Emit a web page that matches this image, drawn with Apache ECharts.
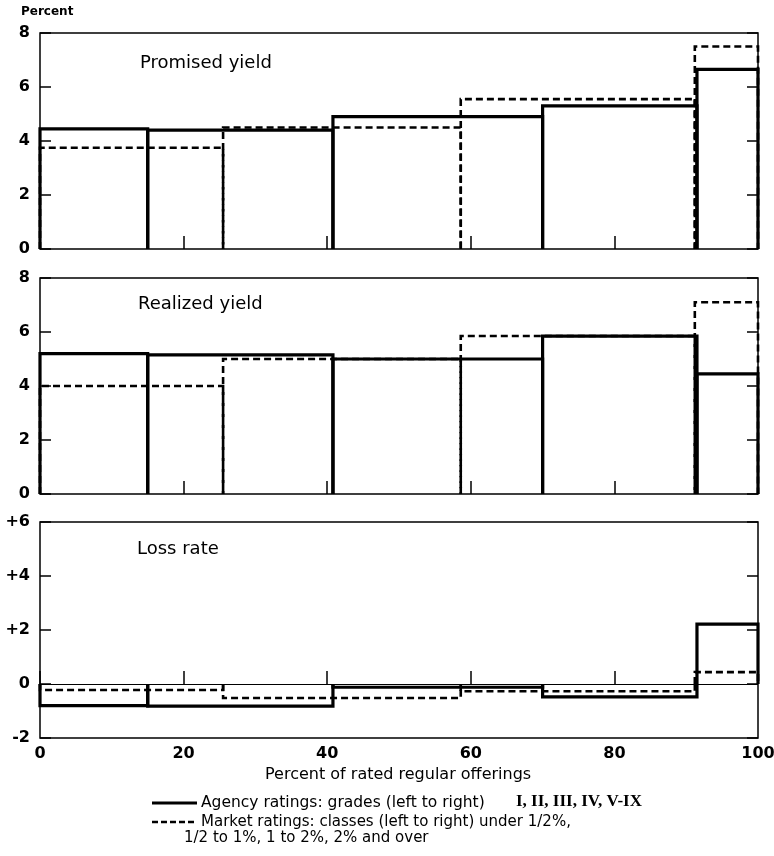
<!DOCTYPE html>
<html><head><meta charset="utf-8">
<script src="https://cdn.jsdelivr.net/npm/echarts@6/dist/echarts.min.js"></script>
<style>html,body{margin:0;padding:0;background:#fff}#c{width:774px;height:856px}</style>
</head><body><div id="c"></div>
<script>
// Bin edges (percent of rated regular offerings)
const agencyEdges = [0, 15, 40.8, 70, 91.5, 100];
const marketEdges = [0, 25.5, 58.6, 91.2, 100];
// Promised yield (percent)
const promisedAgency = [4.45, 4.4, 4.9, 5.3, 6.65];
const promisedMarket = [3.75, 4.5, 5.55, 7.5];
// Realized yield (percent)
const realizedAgency = [5.2, 5.15, 5.0, 5.85, 4.45];
const realizedMarket = [4.0, 5.0, 5.85, 7.1];
// Loss rate (percent)
const lossAgency = [-0.8, -0.82, -0.12, -0.48, 2.22];
const lossMarket = [-0.22, -0.52, -0.27, 0.44];
// Tick labels
const xTicks = [0, 20, 40, 60, 80, 100];
const yTicksYield = [0, 2, 4, 6, 8];
const yTicksLoss = [-2, 0, 2, 4, 6];
const panelTitles = ['Promised yield', 'Realized yield', 'Loss rate'];

const FONT = 'DejaVu Sans';
function bins(edges, vals) { return vals.map((v, i) => [edges[i], edges[i + 1], v]); }

function stepSeries(idx, edges, vals, dashed) {
  return {
    type: 'custom', xAxisIndex: idx, yAxisIndex: idx * 2,
    data: bins(edges, vals), encode: { x: [0, 1], y: 2 }, silent: true, clip: false,
    renderItem: function (params, api) {
      const x0 = api.value(0), x1 = api.value(1), y = api.value(2);
      const pts = [api.coord([x0, 0]), api.coord([x0, y]), api.coord([x1, y]), api.coord([x1, 0])];
      return { type: 'polyline', shape: { points: pts },
        style: { fill: 'none', stroke: '#000', lineWidth: dashed ? 2.6 : 3.2, lineDash: dashed ? [7, 4] : null, lineJoin: 'miter' } };
    }
  };
}

const tops = [33, 278, 522];
const H = 216;
const grids = tops.map(t => ({ left: 40, top: t, width: 718, height: H, show: true, borderColor: '#000', borderWidth: 1.5,
  backgroundColor: 'transparent', containLabel: false, outerBoundsMode: 'none' }));

const xAxes = tops.map((t, i) => ({
  type: 'value', gridIndex: i, min: 0, max: 100, interval: 20,
  axisLine: { show: false }, splitLine: { show: false },
  axisTick: { show: true, inside: true, length: 13, lineStyle: { color: '#000', width: 1.5 } },
  axisLabel: { show: i === 2, color: '#000', fontFamily: FONT, fontSize: 16, fontWeight: 'bold', margin: 8,
    formatter: v => xTicks.indexOf(v) >= 0 ? String(v) : '' }
}));

const yAxes = [];
tops.forEach((t, i) => {
  const loss = i === 2;
  const base = { type: 'value', gridIndex: i, min: loss ? -2 : 0, max: loss ? 6 : 8, interval: 2,
    axisLine: { show: false }, splitLine: { show: false },
    axisTick: { show: true, inside: true, length: 11, lineStyle: { color: '#000', width: 1.5 } } };
  yAxes.push(Object.assign({}, base, { position: 'left',
    axisLabel: { color: '#000', fontFamily: FONT, fontSize: 16, fontWeight: 'bold', margin: 10,
      formatter: v => { const arr = loss ? yTicksLoss : yTicksYield; if (arr.indexOf(v) < 0) return ''; return (loss && v > 0) ? '+' + v : String(v); } } }));
  yAxes.push(Object.assign({}, base, { position: 'right', axisLabel: { show: false } }));
});

const series = [
  stepSeries(0, agencyEdges, promisedAgency, false),
  stepSeries(0, marketEdges, promisedMarket, true),
  stepSeries(1, agencyEdges, realizedAgency, false),
  stepSeries(1, marketEdges, realizedMarket, true),
  Object.assign(stepSeries(2, agencyEdges, lossAgency, false), {
    markLine: { silent: true, symbol: 'none', label: { show: false }, data: [{ yAxis: 0 }],
      lineStyle: { color: '#000', width: 1.2, type: 'solid' } } }),
  stepSeries(2, marketEdges, lossMarket, true)
];

const titleStyle = { fill: '#000', font: '18px ' + FONT };
const graphic = [
  { type: 'text', left: 140, top: 54, style: Object.assign({ text: panelTitles[0] }, titleStyle) },
  { type: 'text', left: 138, top: 295, style: Object.assign({ text: panelTitles[1] }, titleStyle) },
  { type: 'text', left: 137, top: 540, style: Object.assign({ text: panelTitles[2] }, titleStyle) },
  { type: 'text', left: 21, top: 6, style: { text: 'Percent', fill: '#000', font: 'bold 12px ' + FONT } },
  { type: 'text', left: 265, top: 767, style: { text: 'Percent of rated regular offerings', fill: '#000', font: '16px ' + FONT } },
  { type: 'line', shape: { x1: 152, y1: 803, x2: 197, y2: 803 }, style: { stroke: '#000', lineWidth: 3 } },
  { type: 'line', shape: { x1: 152, y1: 822, x2: 197, y2: 822 }, style: { stroke: '#000', lineWidth: 2.6, lineDash: [6, 3] } },
  { type: 'text', left: 201, top: 795, style: { text: 'Agency ratings: grades (left to right)', fill: '#000', font: '15.5px ' + FONT } },
  { type: 'text', left: 516, top: 793, style: { text: 'I, II, III, IV, V-IX', fill: '#000', font: 'bold 17px "Liberation Serif"' } },
  { type: 'text', left: 201, top: 815, style: { text: 'Market ratings: classes (left to right) under 1/2%,', fill: '#000', font: '15px ' + FONT } },
  { type: 'text', left: 184, top: 831, style: { text: '1/2 to 1%, 1 to 2%, 2% and over', fill: '#000', font: '15px ' + FONT } }
];

const chart = echarts.init(document.getElementById('c'), null, { renderer: 'canvas' });
chart.setOption({ animation: false, backgroundColor: '#fff', grid: grids, xAxis: xAxes, yAxis: yAxes, series: series, graphic: graphic });
</script></body></html>
